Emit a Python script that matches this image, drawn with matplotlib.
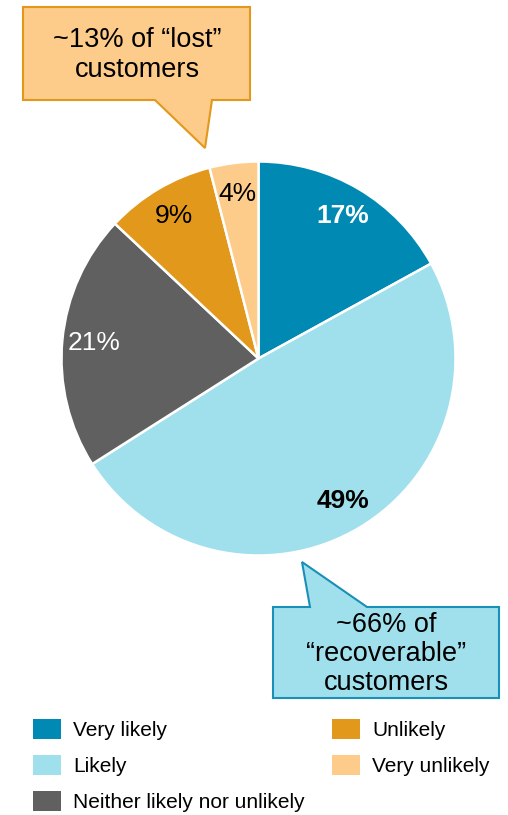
import matplotlib.pyplot as plt
from matplotlib.patches import Polygon, Rectangle

plt.rcParams['font.family'] = ['Liberation Sans', 'DejaVu Sans']

# Share of customers by likelihood to return
categories = ['Very likely', 'Likely', 'Neither likely nor unlikely',
              'Unlikely', 'Very unlikely']
shares = [17, 49, 21, 9, 4]
colors = ['#0089B3', '#A0E0EC', '#606060', '#E2981A', '#FDCC8A']
label_colors = ['white', 'black', 'white', 'black', 'black']
label_weights = ['bold', 'bold', 'normal', 'normal', 'normal']

W, H = 508, 815
fig = plt.figure(figsize=(W / 100, H / 100), dpi=100)
ax = fig.add_axes([0, 0, 1, 1])


def Y(y):
    # pixel rows counted from the top
    return H - y


wedges, texts, autotexts = ax.pie(
    shares, colors=colors, startangle=90, counterclock=False,
    center=(258.5, Y(358.5)), radius=197, autopct='%.0f%%', pctdistance=0.84,
    wedgeprops=dict(edgecolor='white', linewidth=1.8),
    textprops=dict(fontsize=19))
for t, c, w in zip(autotexts, label_colors, label_weights):
    t.set_color(c)
    t.set_fontweight(w)

# callout for the "lost" customers
top_box = [(23, 7), (250, 7), (250, 100), (212, 100), (205, 148), (155, 100), (23, 100)]
ax.add_patch(Polygon([(x, Y(y)) for x, y in top_box], closed=True,
                     facecolor='#FDCC8A', edgecolor='#E2981A', linewidth=1.5))
ax.text(137, Y(55), '~13% of \u201clost\u201d\ncustomers', ha='center', va='center',
        fontsize=19.5, linespacing=1.22)

# callout for the "recoverable" customers
bottom_box = [(273, 607), (310, 607), (302, 562), (367, 607), (499, 607),
              (499, 698), (273, 698)]
ax.add_patch(Polygon([(x, Y(y)) for x, y in bottom_box], closed=True,
                     facecolor='#A0E0EC', edgecolor='#1A8FB8', linewidth=1.5))
ax.text(386, Y(654), '~66% of\n\u201crecoverable\u201d\ncustomers', ha='center', va='center',
        fontsize=19.5, linespacing=1.15)

# legend, two columns
legend_pos = [(33, 729), (33, 765), (33, 801), (332, 729), (332, 765)]
for (x, y), name, c in zip(legend_pos, categories, colors):
    ax.add_patch(Rectangle((x, Y(y) - 10), 28, 20, facecolor=c, edgecolor='none'))
    ax.text(x + 40, Y(y) - 1, name, ha='left', va='center', fontsize=15)

ax.set_xlim(0, W)
ax.set_ylim(0, H)
ax.set_aspect('auto')
ax.axis('off')

fig.savefig('out.png', dpi=100)
